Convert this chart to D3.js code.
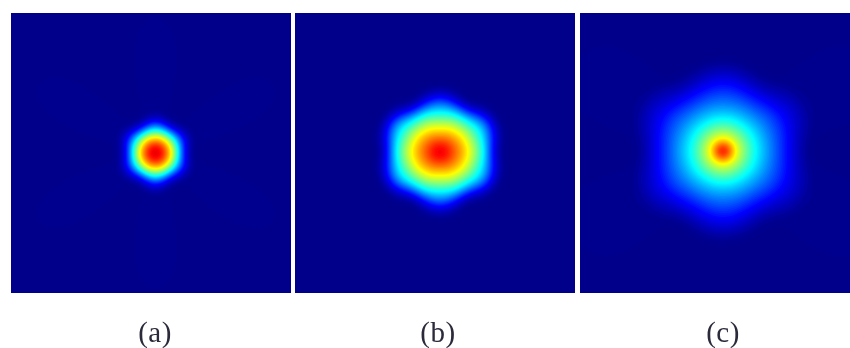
<!DOCTYPE html>
<html><head><meta charset="utf-8">
<script src="https://cdn.jsdelivr.net/npm/d3@7"></script>
<style>html,body{margin:0;padding:0;background:#fff;overflow:hidden}svg{display:block}</style>
</head><body><svg id="c" width="850" height="348"></svg>
<script>
const panelLabels = ["(a)", "(b)", "(c)"];
const angles = [0, 30, 60, 90];

const radiiA = [0,3,6,9,12,15,18,21,24,27,30,33,36,40,200];
const profileA0  = [.95,.93,.90,.85,.77,.67,.58,.47,.33,.18,.09,.04,.01,0,0];
const profileA30 = [.95,.93,.90,.85,.77,.67,.58,.47,.36,.26,.17,.10,.05,.01,0];
const profileA60 = [.95,.93,.90,.85,.77,.67,.58,.47,.33,.18,.09,.04,.01,0,0];
const profileA90 = [.95,.93,.90,.85,.77,.67,.58,.47,.36,.26,.17,.10,.05,.01,0];

const radiiB = [0,4,8,12,16,20,24,28,32,36,40,44,48,52,56,60,64,68,200];
const profileB0  = [.93,.905,.87,.82,.78,.74,.69,.64,.58,.515,.45,.38,.26,.15,.07,.02,0,0,0];
const profileB30 = [.93,.90,.865,.82,.77,.73,.68,.625,.56,.50,.44,.38,.33,.26,.17,.09,.04,0,0];
const profileB60 = [.93,.90,.86,.81,.76,.71,.655,.595,.53,.465,.395,.29,.19,.09,.03,0,0,0,0];
const profileB90 = [.93,.90,.855,.80,.74,.68,.625,.56,.50,.44,.375,.31,.25,.175,.11,.05,.02,0,0];

const radiiC = [0,4,8,12,16,20,25,30,35,40,45,50,55,60,65,70,75,80,85,90,95,200];
const profileC0  = [.93,.90,.76,.64,.58,.53,.46,.41,.36,.32,.28,.24,.20,.165,.13,.095,.06,.03,.012,0,0,0];
const profileC30 = [.93,.90,.76,.64,.58,.53,.46,.41,.36,.32,.28,.245,.215,.185,.155,.125,.10,.08,.06,.035,.015,0];
const profileC60 = [.93,.90,.76,.64,.58,.53,.46,.41,.35,.31,.27,.23,.19,.155,.12,.085,.05,.025,.01,0,0,0];
const profileC90 = [.93,.90,.76,.64,.58,.53,.46,.41,.35,.31,.27,.235,.205,.175,.145,.115,.085,.055,.03,.012,0,0];

const panelRadii = [radiiA, radiiB, radiiC];
const panelProfiles = [
  [profileA0, profileA30, profileA60, profileA90],
  [profileB0, profileB30, profileB60, profileB90],
  [profileC0, profileC30, profileC60, profileC90]
];
const panelLeft = [11, 295, 580];
const panelCentreX = [154.5, 439, 722];
const panelCentreY = [152, 151, 150];
const panelTop = 13, panelSize = 280;
const labelX = [155, 438, 723], labelY = 342;

const jet = d3.scaleLinear()
  .domain([0, .125, .375, .625, .875, 1])
  .range(["#00008b", "#0000ff", "#00ffff", "#ffff00", "#ff0000", "#800000"])
  .clamp(true);

const svg = d3.select("#c");
const defs = svg.append("defs");
defs.append("filter").attr("id", "soft").append("feGaussianBlur").attr("stdDeviation", 0.45);

const cell = 2, n = panelSize / cell + 1;
const thresholds = d3.range(0.004, 1, 1 / 90);

panelLabels.forEach((label, p) => {
  const x0 = panelLeft[p], cx = panelCentreX[p], cy = panelCentreY[p];
  const rad = panelRadii[p];
  const radial = d3.scaleLinear().domain(rad).range(rad.map((_, i) => i));
  const angleScale = d3.scaleLinear().domain(angles).range(angles.map((_, i) => i)).clamp(true);
  const sample = (prof, r) => {
    const f = Math.min(radial(r), rad.length - 1.001), i = Math.floor(f), t = f - i;
    return prof[i] + (prof[i + 1] - prof[i]) * t;
  };
  let values = new Float64Array(n * n);
  for (let j = 0; j < n; j++) for (let i = 0; i < n; i++) {
    const dx = x0 + i * cell - cx, dy = panelTop + j * cell - cy;
    const r = Math.hypot(dx, dy);
    const a = Math.atan2(Math.abs(dy), Math.abs(dx)) * 180 / Math.PI;
    const f = Math.min(angleScale(a), angles.length - 1.001), k = Math.floor(f), t = f - k;
    const s = t * t * (3 - 2 * t);
    values[j * n + i] = sample(panelProfiles[p][k], r) * (1 - s) + sample(panelProfiles[p][k + 1], r) * s;
  }
  if (d3.blur2) d3.blur2({data: values, width: n, height: n}, 1.5);

  const id = "clip" + p;
  defs.append("clipPath").attr("id", id).append("rect")
    .attr("x", x0).attr("y", panelTop).attr("width", panelSize).attr("height", panelSize);
  const g = svg.append("g").attr("clip-path", `url(#${id})`);
  g.append("rect").attr("x", x0).attr("y", panelTop).attr("width", panelSize).attr("height", panelSize).attr("fill", jet(0));
  const path = d3.geoPath(d3.geoIdentity().scale(cell).translate([x0, panelTop]));
  const contours = d3.contours().size([n, n]).thresholds(thresholds)(values);
  g.selectAll("path").data(contours).join("path")
    .attr("d", path).attr("fill", d => jet(d.value));

  svg.append("text").attr("x", labelX[p]).attr("y", labelY)
    .attr("text-anchor", "middle").attr("font-family", "Liberation Serif")
    .attr("font-size", 29).attr("letter-spacing", 0.5).attr("fill", "#2a2a3a").attr("filter", "url(#soft)").text(label);
});
</script></body></html>
